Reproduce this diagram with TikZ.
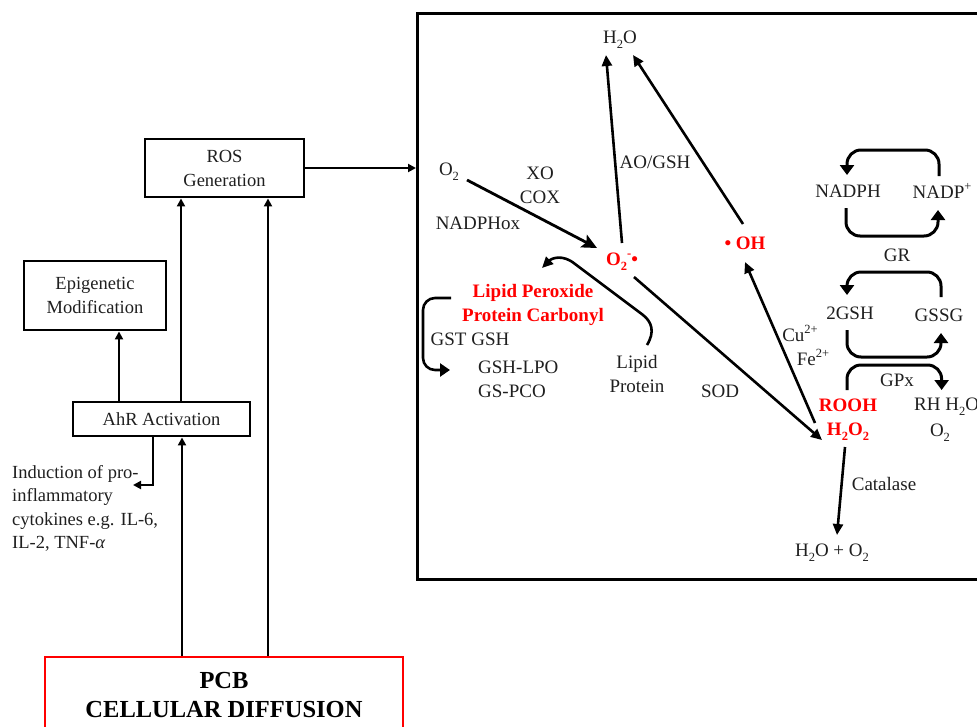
\documentclass[tikz,border=0pt]{standalone}
\usepackage{fontspec}
\setmainfont{Liberation Serif}
\usetikzlibrary{arrows.meta,calc}
\newcommand{\mysub}[1]{\raisebox{-0.28em}{\fontsize{12.5}{12.5}\selectfont #1}}
\newcommand{\mysup}[1]{\raisebox{0.42em}{\fontsize{12.5}{12.5}\selectfont #1}}
\begin{document}
\begin{tikzpicture}[x=1pt,y=-1pt,
  txt/.style={font=\fontsize{19}{24}\selectfont, inner sep=1pt, align=center, text=black!88},
  redtxt/.style={inner sep=1pt, align=center, font=\fontsize{19}{24}\selectfont\bfseries, text=red},
  box/.style={draw, line width=2.9pt, font=\fontsize{18.5}{24}\selectfont, align=center, inner sep=0pt, text=black!88},
  arr/.style={line width=2.8pt, -{Triangle[length=8pt,width=8pt]}},
  iarr/.style={line width=2.6pt, -{Triangle[length=11pt,width=10pt]}},
  bigarr/.style={line width=2.8pt, -{Stealth[length=15pt,width=14pt,inset=3pt]}},
  looparr/.style={line width=3pt, rounded corners=14pt, -{Triangle[length=10pt,width=14pt]}}]
\useasboundingbox (0,0) rectangle (977,726);
\clip (0,0) rectangle (977,726);

% ---------- left part ----------
\node[box, minimum width=159pt, minimum height=58pt] (ros) at (224.5,168) {ROS\\Generation};
\node[box, minimum width=142pt, minimum height=69pt] (epi) at (95,295.5) {Epigenetic\\Modification};
\node[box, minimum width=177pt, minimum height=34pt] (ahr) at (161.5,419) {AhR Activation};
\node[draw=red, line width=2.9pt, minimum width=358pt, minimum height=76pt,
      font=\fontsize{24.5}{29}\selectfont\bfseries, align=center, inner sep=0pt] (pcb) at (224,695)
      {PCB\\CELLULAR DIFFUSION};
\node[font=\fontsize{18.5}{23.5}\selectfont, align=left, anchor=north west, inner sep=0pt, text=black!88] (ind) at (12,465)
      {Induction of pro-\\inflammatory\\cytokines e.g. IL-6,\\IL-2, TNF-\textit{α}};
\coordinate (indtip) at (133,485);

% big cell box
\node[draw, line width=3.2pt, minimum width=600pt, minimum height=566pt, anchor=north west, inner sep=0pt] (cell) at (416,12) {};

\draw[arr] (ros.east) -- (ros.east -| cell.west);
\draw[arr] ($(ahr.north)+(-42.5,0)$) -- ($(epi.south)+(24,0)$);
\draw[arr] ($(ahr.north)+(19.5,0)$) -- ($(ros.south)+(-43.5,0)$);
\draw[arr] ($(pcb.north)+(44,0)$) -- ($(ros.south)+(43.5,0)$);
\draw[arr] ($(pcb.north)+(-42,0)$) -- ($(ahr.south)+(20.5,0)$);
\draw[arr] ($(ahr.south)+(-8.5,0)$) |- (indtip);

% ---------- inside the cell ----------
\node[txt] (h2otop) at (620,40) {H\mysub{2}O};
\node[txt] (o2) at (449,172) {O\mysub{2}};
\node[txt] (xo) at (540,185) {XO\\COX};
\node[txt] (nadphox) at (478,223) {NADPHox};
\node[redtxt] (sup) at (622,262) {O\mysub{2}\mysup{-}•};
\node[txt] (aogsh) at (655,162) {AO/GSH};
\node[redtxt] (oh) at (745,243) {• OH};
\node[redtxt] (perox) at (533,305) {Lipid Peroxide\\Protein Carbonyl};
\node[txt] (gst) at (470,339) {GST GSH};
\node[txt, anchor=west, align=left] (gshlpo) at (477,379) {GSH-LPO\\GS-PCO};
\node[txt] (lipid) at (637,374) {Lipid\\Protein};
\node[txt] (sod) at (720,391) {SOD};
\node[txt] (cu) at (800,333) {Cu\mysup{2+}};
\node[txt] (fe) at (813,357) {Fe\mysup{2+}};
\node[redtxt] (rooh) at (848,420) {ROOH\\H\mysub{2}O\mysub{2}};
\node[txt] (nadph) at (848,191) {NADPH};
\node[txt] (nadpp) at (942,191) {NADP\mysup{+}};
\node[txt] (gr) at (897,255) {GR};
\node[txt] (gsh2) at (850,313) {2GSH};
\node[txt] (gssg) at (939,315) {GSSG};
\node[txt] (gpx) at (897,380) {GPx};
\node[txt, anchor=west] (rh) at (913,407) {RH H\mysub{2}O};
\node[txt] (o2b) at (940,433) {O\mysub{2}};
\node[txt] (catalase) at (884,484) {Catalase};
\node[txt] (h2oo2) at (832,553) {H\mysub{2}O + O\mysub{2}};

% straight arrows
\draw[bigarr] ($(o2)+(18,8)$) -- ($(sup)+(-25,-14)$);
\draw[iarr] ($(sup)+(0,-19)$) -- ($(h2otop)+(-14,15)$);
\draw[iarr] ($(oh)+(-2,-19)$) -- ($(h2otop)+(13,15)$);
\draw[iarr] ($(sup)+(12,15)$) -- ($(rooh)+(-26,20)$);
\draw[iarr] ($(rooh)+(-33,3)$) -- ($(oh)+(0,19)$);
\draw[iarr] ($(rooh)+(-3,27)$) -- ($(h2oo2)+(5,-18)$);

% curved arrow from lipid/protein to lipid peroxide
\draw[iarr] ($(lipid)+(10,-29)$) .. controls ($(lipid)+(18,-42)$) and ($(lipid)+(15,-52)$) ..
      ($(lipid)+(6,-59)$) -- ($(lipid)+(-62,-110)$) .. controls ($(lipid)+(-74,-120)$) and ($(lipid)+(-85,-116)$) ..
      ($(perox)+(9,-37)$);

% bracket arrow
\draw[iarr, rounded corners=12pt, -{Triangle[length=10pt,width=13pt]}] ($(perox)+(-82,-7)$) -| ($(gshlpo.west)+(-54,-9)$) -- ($(gshlpo.west)+(-27,-9)$);

% cycle loops
\draw[looparr] ($(nadpp)+(-3,-15)$) |- ($(nadph)+(-1,-41)$) -- ($(nadph)+(-1,-16)$);
\draw[looparr] ($(nadph)+(-2,17)$) |- ($(nadpp)+(-4,45)$) -- ($(nadpp)+(-4,19)$);
\draw[looparr] ($(gssg)+(2,-18)$) |- ($(gsh2)+(-3,-41)$) -- ($(gsh2)+(-3,-18)$);
\draw[looparr] ($(gsh2)+(-3,17)$) |- ($(gssg)+(2,42)$) -- ($(gssg)+(2,18)$);
\draw[looparr] ($(rooh)+(-1,-30)$) |- ($(rh.center)+(-5,-42)$) -- ($(rh.center)+(-5,-17)$);
\end{tikzpicture}
\end{document}
